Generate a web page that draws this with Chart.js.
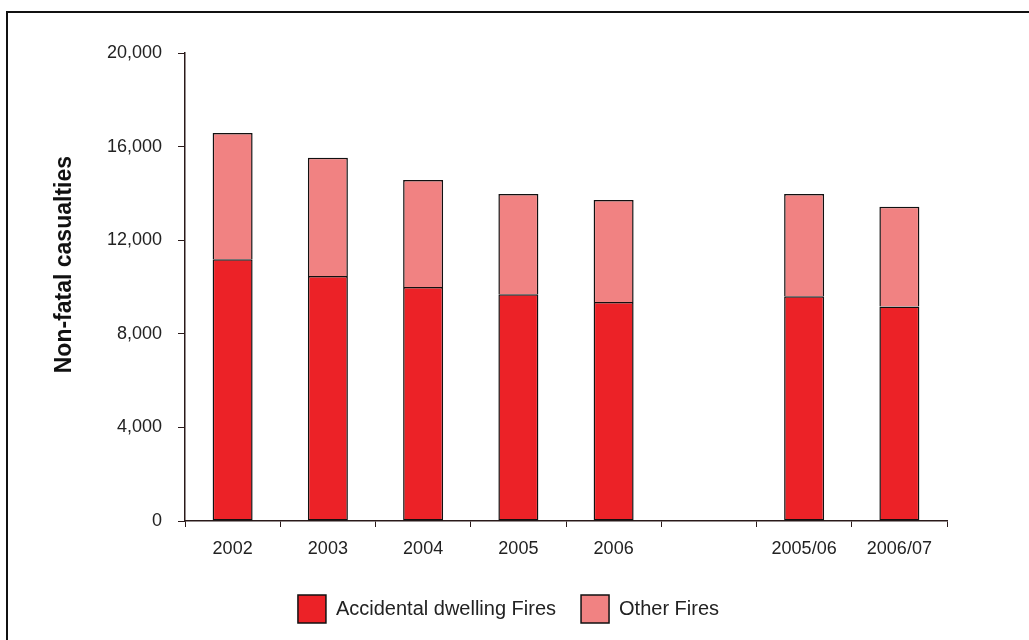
<!DOCTYPE html>
<html>
<head>
<meta charset="utf-8">
<script src="https://cdn.jsdelivr.net/npm/chart.js@4.4.0/dist/chart.umd.min.js"></script>
<style>
  html, body { margin: 0; padding: 0; background: #fff; }
  #wrap { width: 1029px; height: 640px; position: relative; }
</style>
</head>
<body>
<div id="wrap"><canvas id="c" width="1029" height="640"></canvas></div>
<script>
const categories = ['2002', '2003', '2004', '2005', '2006', '', '2005/06', '2006/07'];
const accidentalDwelling = [11190, 10470, 10000, 9690, 9360, null, 9610, 9170];
const otherFires = [5390, 5050, 4570, 4280, 4360, null, 4360, 4260];
const yTicks = [0, 4000, 8000, 12000, 16000, 20000];

const FONT = '"Liberation Sans", Arial, sans-serif';

const framePlugin = {
  id: 'frame',
  beforeDraw(chart) {
    const ctx = chart.ctx;
    ctx.save();
    ctx.strokeStyle = '#111';
    ctx.lineWidth = 2;
    ctx.beginPath();
    ctx.moveTo(7, 640);
    ctx.lineTo(7, 12);
    ctx.lineTo(1029, 12);
    ctx.stroke();
    ctx.restore();
  }
};

new Chart(document.getElementById('c'), {
  type: 'bar',
  data: {
    labels: categories,
    datasets: [
      {
        label: 'Accidental dwelling Fires',
        data: accidentalDwelling,
        backgroundColor: '#EC2227',
        borderColor: '#111',
        borderWidth: 1.5,
        borderSkipped: false
      },
      {
        label: 'Other Fires',
        data: otherFires,
        backgroundColor: '#F18282',
        borderColor: '#111',
        borderWidth: 1.5,
        borderSkipped: 'bottom'
      }
    ]
  },
  options: {
    responsive: false,
    animation: false,
    barPercentage: 0.42,
    categoryPercentage: 1.0,
    layout: { padding: { left: 35, right: 47, top: 53, bottom: 7 } },
    plugins: {
      legend: {
        position: 'bottom',
        labels: {
          boxWidth: 28,
          boxHeight: 28,
          padding: 25,
          color: '#222',
          font: { family: FONT, size: 20 }
        }
      },
      tooltip: { enabled: false }
    },
    scales: {
      x: {
        stacked: true,
        grid: { display: true, drawOnChartArea: false, drawTicks: true, tickLength: 6, color: '#2a1a1a', offset: true },
        border: { display: true, color: '#2a1a1a', width: 1.5 },
        ticks: { color: '#222', font: { family: FONT, size: 18 }, padding: 11, maxRotation: 0 },
        afterFit(s) { s.height = 49; }
      },
      y: {
        stacked: true,
        min: 0,
        max: 20000,
        afterBuildTicks(s) { s.ticks = yTicks.map(v => ({ value: v })); },
        grid: { display: true, drawOnChartArea: false, drawTicks: true, tickLength: 7, color: '#2a1a1a' },
        border: { display: true, color: '#2a1a1a', width: 1.5 },
        ticks: {
          color: '#222',
          font: { family: FONT, size: 18 },
          padding: 16,
          callback: v => v.toLocaleString('en-US')
        },
        title: {
          display: true,
          text: '       Non-fatal casualties',
          color: '#111',
          font: { family: FONT, size: 23, weight: 'bold' },
          padding: { top: 16, bottom: 0 }
        },
        afterFit(s) { s.width = 150; }
      },
      y2: {
        position: 'right',
        display: true,
        grid: { display: false },
        border: { display: false },
        ticks: { display: false },
        afterFit(s) { s.width = 35; }
      }
    }
  },
  plugins: [framePlugin]
});
</script>
</body>
</html>
